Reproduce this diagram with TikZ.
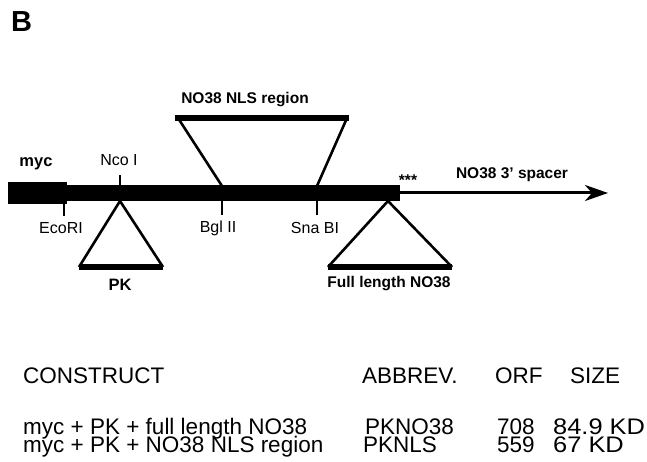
\documentclass[tikz,border=0pt]{standalone}
\usepackage{fontspec}
\usepackage{graphicx}
\setmainfont{Liberation Sans}
\usetikzlibrary{arrows.meta, positioning}

\begin{document}
\begin{tikzpicture}[x=1pt,y=-1pt,
  lbl/.style={inner sep=0pt, font=\fontsize{16}{16}\selectfont},
  blbl/.style={inner sep=0pt, font=\fontsize{15.5}{16}\selectfont\bfseries},
  tbl/.style={inner sep=0pt, anchor=base west, text height=16pt, text depth=0pt,
    font=\fontsize{22.5}{23}\selectfont},
  site/.style={line width=2pt},
  arm/.style={line width=2.6pt},
  insert/.style={line width=6pt}]
\useasboundingbox (0,0) rectangle (647,462);

\node[inner sep=0pt, anchor=base west, font=\fontsize{29}{29}\selectfont\bfseries] (panel) at (11,32) {B};

\coordinate (mycnw) at (8,182);
\coordinate (mycse) at (67,204);
\coordinate (barnw) at (65,185);
\coordinate (barse) at (400,201);
\coordinate (barend) at (400,193);
\coordinate (tip) at (608,193);
\fill (mycnw) rectangle (mycse);
\fill (barnw) rectangle (barse);
\draw[line width=3pt, -{Stealth[length=23pt, width=16pt, inset=7pt]}] (barend) -- (tip);

\foreach \nm/\x/\ya/\yb in {nco/120/185/175, eco/64/201/216, bgl/222/201/215, sna/317/201/215} {
  \coordinate (\nm a) at (\x,\ya);
  \coordinate (\nm b) at (\x,\yb);
  \draw[site] (\nm a) -- (\nm b);
}

\node[blbl, font=\fontsize{16.5}{17}\selectfont\bfseries] (myc) at (36,164) {myc};
\node[lbl] (ncolbl) at (119,160) {Nco I};
\node[lbl] (ecolbl) at (61,228) {EcoRI};
\node[lbl] (bgllbl) at (218,228) {Bgl II};
\node[lbl] (snalbl) at (315,228) {Sna BI};
\node[blbl] (stop) at (408,180) {***};
\node[blbl] (spacer) at (512,175) {NO38 3' spacer};

\coordinate (pkapex) at (120,201);
\coordinate (pkl) at (79,267);
\coordinate (pkr) at (163,267);
\draw[arm] (pkl) -- (pkapex) -- (pkr);
\draw[insert] (pkl) -- (pkr);
\node[blbl, font=\fontsize{16.5}{17}\selectfont\bfseries] (pk) at (120,285) {PK};

\coordinate (nlsl) at (175,118);
\coordinate (nlsr) at (349,118);
\coordinate (nlsla) at (178,118);
\coordinate (nlsra) at (347,118);
\coordinate (nlsa) at (222,186);
\coordinate (nlsb) at (317,186);
\draw[arm] (nlsa) -- (nlsla);
\draw[arm] (nlsb) -- (nlsra);
\draw[insert] (nlsl) -- (nlsr);
\node[blbl] (nls) at (245,100) {NO38 NLS region};

\coordinate (flapex) at (388,201);
\coordinate (fll) at (328,267);
\coordinate (flr) at (452,267);
\draw[arm] (fll) -- (flapex) -- (flr);
\draw[insert] (fll) -- (flr);
\node[blbl] (full) at (389,284) {Full length NO38};

\node[tbl] (H0) at (23,383) {CONSTRUCT};
\node[tbl] (H1) at (362,383) {ABBREV.};
\node[tbl] (H2) at (495,383) {ORF};
\node[tbl] (H3) at (570,383) {SIZE};

\foreach \row/\yy/\cons/\xa/\abbr/\orf/\size in {1/434/myc + PK + full length NO38/365/PKNO38/708/84.9 KD, 2/452/myc + PK + NO38 NLS region/363/PKNLS/559/67 KD} {
  \node[tbl] (C\row) at (23,\yy) {\cons};
  \node[tbl] (A\row) at (\xa,\yy) {\abbr};
  \node[tbl] (O\row) at (497,\yy) {\orf};
  \node[tbl] (S\row) at (553,\yy) {\scalebox{1.13}[1]{\size}};
}
\end{tikzpicture}
\end{document}
